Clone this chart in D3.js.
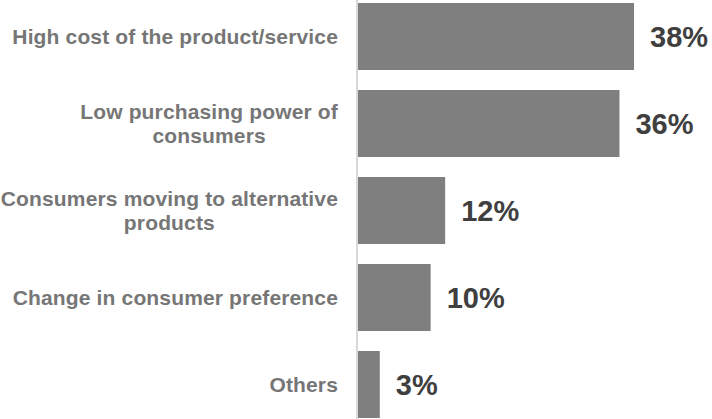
<!DOCTYPE html>
<html>
<head>
<meta charset="utf-8">
<script src="https://cdn.jsdelivr.net/npm/d3@7"></script>
<style>
  html, body { margin: 0; padding: 0; background: #fff; }
  svg { display: block; }
</style>
</head>
<body>
<svg id="chart" width="712" height="419"></svg>
<script>
// Reasons cited, top to bottom, with the share of respondents (%)
const categories = [
  ["High cost of the product/service"],
  ["Low purchasing power of", "consumers"],
  ["Consumers moving to alternative", "products"],
  ["Change in consumer preference"],
  ["Others"]
];
const values = [38, 36, 12, 10, 3];
const valueLabels = ["38%", "36%", "12%", "10%", "3%"];

const svg = d3.select("#chart");
const W = 712, H = 419;
const axisX = 357;       // baseline of the bars
const labelRight = 338;  // right edge of category text

const idx = d3.range(values.length);

const x = d3.scaleLinear().domain([0, 38]).range([axisX + 1, 634]);
const y = d3.scaleBand().domain(idx).range([3, 418]).paddingInner(20 / 87).paddingOuter(0);

// bars
svg.append("g").selectAll("rect")
  .data(idx)
  .join("rect")
  .attr("x", x(0))
  .attr("y", i => y(i))
  .attr("width", i => x(values[i]) - x(0))
  .attr("height", y.bandwidth())
  .attr("fill", "#7f7f7f");

// vertical category axis line
svg.append("line")
  .attr("x1", axisX).attr("x2", axisX)
  .attr("y1", 0).attr("y2", H)
  .attr("stroke", "#d9d9d9")
  .attr("stroke-width", 2);

// value labels
svg.append("g").selectAll("text")
  .data(idx)
  .join("text")
  .attr("x", i => x(values[i]) + 16)
  .attr("y", i => y(i) + y.bandwidth() / 2)
  .attr("dy", "0.36em")
  .attr("font-family", "'Liberation Sans', Arial, sans-serif")
  .attr("font-weight", "bold")
  .attr("font-size", 29)
  .attr("fill", "#3f3f3f")
  .text(i => valueLabels[i]);

// category labels: block right-aligned, lines centred within the block
const fontSize = 21, lineH = 24;
const catG = svg.append("g")
  .attr("font-family", "'Liberation Sans', Arial, sans-serif")
  .attr("font-weight", "bold")
  .attr("font-size", fontSize)
  .attr("fill", "#767676");

idx.forEach(i => {
  const lines = categories[i];
  const cy = y(i) + y.bandwidth() / 2;
  const t = catG.append("text")
    .attr("text-anchor", "middle")
    .attr("letter-spacing", "0.15px");
  const spans = lines.map((ln, k) =>
    t.append("tspan")
      .attr("y", cy + (k - (lines.length - 1) / 2) * lineH)
      .attr("dy", "0.36em")
      .text(ln));
  const maxW = d3.max(spans, s => s.node().getComputedTextLength());
  spans.forEach(s => s.attr("x", labelRight - maxW / 2));
});
</script>
</body>
</html>
